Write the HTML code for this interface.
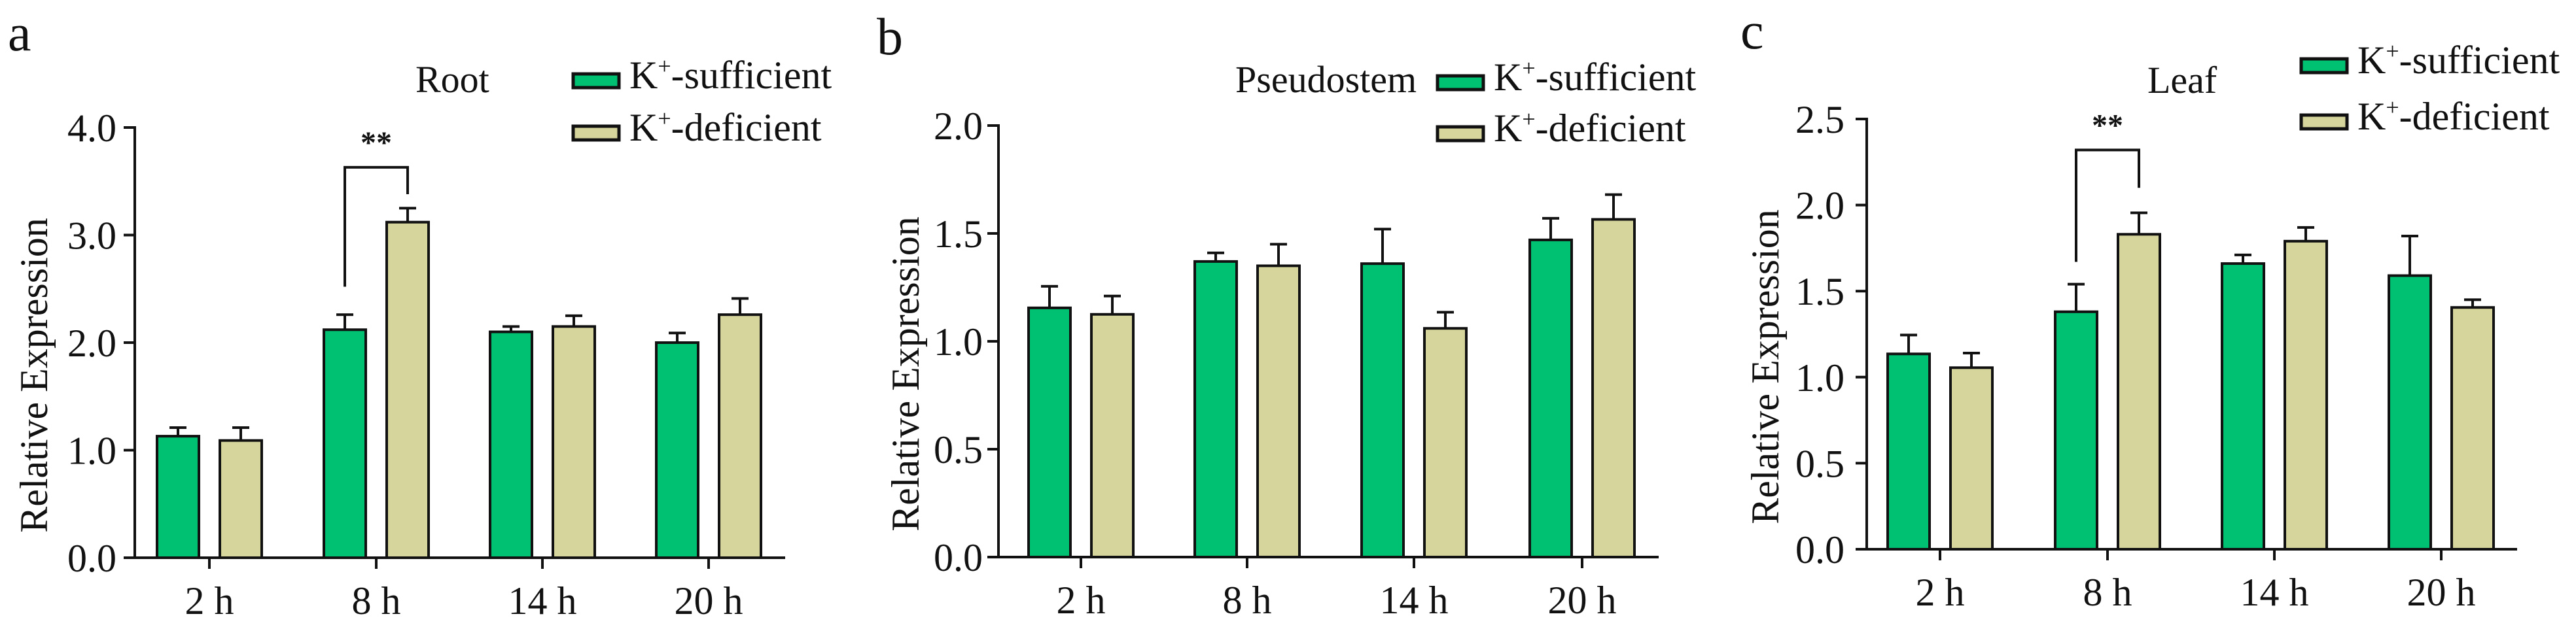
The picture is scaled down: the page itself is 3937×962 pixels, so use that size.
<!DOCTYPE html>
<html><head><meta charset="utf-8"><style>
html,body{margin:0;padding:0;background:#fff;}
svg{display:block;font-family:"Liberation Serif",serif;}
</style></head><body>
<svg id="fig" width="3937" height="962" viewBox="0 0 3937 962" xmlns="http://www.w3.org/2000/svg"></svg>
<script>
const categories = ["2 h","8 h","14 h","20 h"];
const rootSufficient = [1.13,2.12,2.10,2.00];
const rootSufficientErr = [0.08,0.14,0.05,0.09];
const rootDeficient = [1.09,3.12,2.15,2.26];
const rootDeficientErr = [0.12,0.13,0.10,0.15];
const rootTicks = ["0.0","1.0","2.0","3.0","4.0"];
const stemSufficient = [1.155,1.37,1.36,1.47];
const stemSufficientErr = [0.10,0.04,0.16,0.10];
const stemDeficient = [1.125,1.35,1.06,1.565];
const stemDeficientErr = [0.085,0.10,0.075,0.115];
const stemTicks = ["0.0","0.5","1.0","1.5","2.0"];
const leafSufficient = [1.135,1.38,1.66,1.59];
const leafSufficientErr = [0.11,0.16,0.05,0.23];
const leafDeficient = [1.055,1.83,1.79,1.405];
const leafDeficientErr = [0.085,0.125,0.08,0.045];
const leafTicks = ["0.0","0.5","1.0","1.5","2.0","2.5"];

const NS="http://www.w3.org/2000/svg";
const svg=document.getElementById('fig');
function mk(tag,attrs,parent,text){const e=document.createElementNS(NS,tag);for(const k in attrs)e.setAttribute(k,attrs[k]);if(text!==undefined)e.textContent=text;(parent||svg).appendChild(e);return e;}

function panel(o){
  const g=mk('g',{});
  
  
  const ymax=parseFloat(o.ticks[o.ticks.length-1]);
  const y=v=>o.y0-(v/ymax)*(o.y0-o.yTop);
  const x=i=>o.cx[i];
  const series=[[o.suf,o.sufE,'#00c072',-48,'sufficient'],[o.def,o.defE,'#d6d59c',48,'deficient']];
  series.forEach(s=>{
    s[0].forEach((v,i)=>{
      const cx=x(i)+s[3];
      const eb=mk('line',{x1:cx,x2:cx,y1:y(v),y2:y(v+s[1][i]),stroke:'#111','stroke-width':4},g);
      
      
      const cap=mk('line',{x1:cx-13,x2:cx+13,y1:y(v+s[1][i]),y2:y(v+s[1][i]),stroke:'#111','stroke-width':4},g);
      
      
      const r=mk('rect',{x:cx-32,y:y(v),width:64,height:o.y0-y(v),fill:s[2],stroke:'#111','stroke-width':4},g);
      
      
    });
  });
  const ya=mk('line',{x1:o.ax,x2:o.ax,y1:o.yTop-2,y2:o.y0+2,stroke:'#111','stroke-width':4},g);
  
  
  const xa=mk('line',{x1:o.ax-17,x2:o.xEnd,y1:o.y0,y2:o.y0,stroke:'#111','stroke-width':4},g);
  
  
  o.ticks.forEach(t=>{
    const yy=y(parseFloat(t));
    mk('line',{x1:o.ax-17,x2:o.ax,y1:yy,y2:yy,stroke:'#111','stroke-width':4},g);
    const tl=mk('text',{x:o.tlx,y:yy+21,'text-anchor':'end','font-size':60,fill:'#111'},g,t);
    
    
  });
  categories.forEach((c,i)=>{
    mk('line',{x1:x(i),x2:x(i),y1:o.y0,y2:o.y0+17,stroke:'#111','stroke-width':4},g);
    const cl=mk('text',{x:x(i),y:o.y0+86,'text-anchor':'middle','font-size':60,fill:'#111'},g,c);
    
    
  });
  const yt=mk('text',{x:0,y:0,transform:`translate(${o.ytx},${(o.y0+o.yTop)/2+50}) rotate(-90)`,'text-anchor':'middle','font-size':60,fill:'#111'},g,'Relative Expression');
  
  
  const pl=mk('text',{x:o.lx,y:o.ly,'font-size':80,fill:'#111'},g,o.letter);
  
  
  const tt=mk('text',{x:o.tx,y:o.ty,'font-size':58,fill:'#111'},g,o.title);
  
  
  [['K','-sufficient','#00c072',o.lg1],['K','-deficient','#d6d59c',o.lg2]].forEach((L,k)=>{
    const b=mk('rect',{x:o.lgx,y:L[3]-22,width:70,height:21,fill:L[2],stroke:'#111','stroke-width':5},g);
    
    
    const t=mk('text',{x:o.lgx+86,y:L[3],'font-size':60,fill:'#111'},g);
    
    
    mk('tspan',{},t,'K');
    mk('tspan',{dy:-22,'font-size':36},t,'+');
    mk('tspan',{dy:22},t,L[1]);
  });
  if(o.sig){
    const s=o.sig;
    const x1=x(s.i)-48,x2=x(s.i)+48;
    const br=mk('polyline',{points:`${x1},${y(s.lo1)} ${x1},${y(s.top)} ${x2},${y(s.top)} ${x2},${y(s.lo2)}`,fill:'none',stroke:'#111','stroke-width':4},g);
    
    
    const st=mk('text',{x:x(s.i),y:y(s.top)-22,'text-anchor':'middle','font-size':48,'font-weight':'bold',fill:'#111'},g,'**');
    
    
  }
}

panel({id:'root',letter:'a',title:'Root',suf:rootSufficient,sufE:rootSufficientErr,def:rootDeficient,defE:rootDeficientErr,ticks:rootTicks,
  ax:206,y0:853,yTop:195,xEnd:1200,cx:[320,575,829,1083],tlx:178,ytx:72,lx:12,ly:77,tx:635,ty:141,lgx:876,lg1:135,lg2:215,
  sig:{i:1,lo1:2.52,lo2:3.38,top:3.63}});
panel({id:'pseudostem',letter:'b',title:'Pseudostem',suf:stemSufficient,sufE:stemSufficientErr,def:stemDeficient,defE:stemDeficientErr,ticks:stemTicks,
  ax:1526,y0:852,yTop:192,xEnd:2535,cx:[1652,1906,2161,2418],tlx:1502,ytx:1404,lx:1340,ly:83,tx:1888,ty:141,lgx:2197,lg1:138,lg2:216});
panel({id:'leaf',letter:'c',title:'Leaf',suf:leafSufficient,sufE:leafSufficientErr,def:leafDeficient,defE:leafDeficientErr,ticks:leafTicks,
  ax:2853,y0:840,yTop:182,xEnd:3847,cx:[2965,3221,3476,3731],tlx:2819,ytx:2718,lx:2660,ly:74,tx:3282,ty:142,lgx:3517,lg1:112,lg2:198,
  sig:{i:1,lo1:1.67,lo2:2.10,top:2.32}});
</script>
</body></html>
